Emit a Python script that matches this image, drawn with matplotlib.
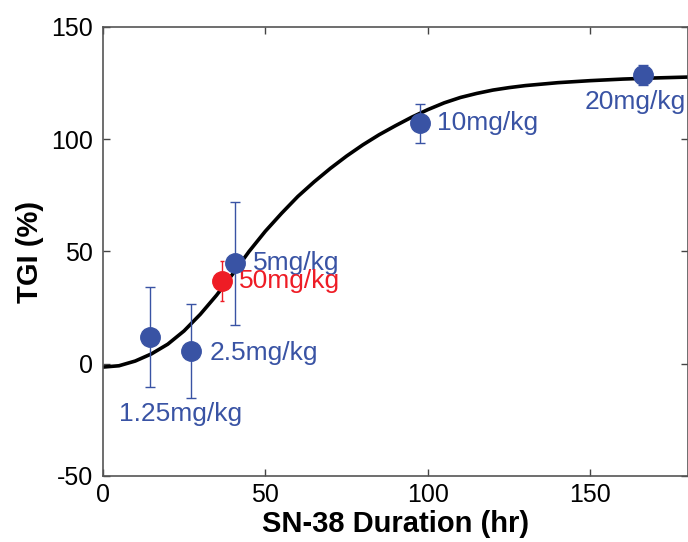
import matplotlib
matplotlib.use("Agg")
import matplotlib.pyplot as plt

# dose groups: SN-38 duration (hr), TGI (%), error
doses = ["1.25mg/kg", "2.5mg/kg", "5mg/kg", "10mg/kg", "20mg/kg"]
duration = [14.5, 27.1, 40.7, 97.6, 166.2]
tgi = [12.0, 5.7, 44.7, 107.1, 128.6]
tgi_err = [22.3, 21.0, 27.5, 8.8, 4.5]

# single red point
red_label = "50mg/kg"
red_duration = 36.6
red_tgi = 37.0
red_err = 8.9

# fitted curve
curve_x = [0, 5, 10, 15, 20, 25, 30, 35, 40, 45, 50, 55, 60, 65, 70, 75, 80,
           85, 90, 95, 100, 105, 110, 115, 120, 125, 130, 140, 150, 160, 170, 180]
curve_y = [-1.5, -0.9, 1.2, 4.4, 8.7, 14.6, 22.0, 30.5, 40.0, 50.0, 59.0,
           67.0, 74.5, 81.0, 87.0, 92.5, 97.5, 102.0, 106.0, 109.8, 113.2,
           116.2, 118.6, 120.4, 121.9, 123.0, 123.9, 125.2, 126.1, 126.8,
           127.3, 127.7]

# label anchor (left, vertical centre) in data coords
label_pos = [(4.9, -22.5), (32.9, 4.9), (46.1, 44.7), (102.7, 107.1), (148.3, 116.7)]
red_label_pos = (42.0, 37.0)

blue = "#3953a4"
red = "#ee1c25"

plt.rcParams["font.family"] = ["Liberation Sans", "DejaVu Sans"]
plt.rcParams["axes.unicode_minus"] = False

fig = plt.figure(figsize=(6.88, 5.42), dpi=100)
ax = fig.add_axes([0.1493, 0.1218, 0.8507, 0.8284])

ax.plot(curve_x, curve_y, color="black", linewidth=2.6, zorder=2)

ax.errorbar(duration, tgi, yerr=tgi_err, fmt="o", color=blue, ms=14,
            elinewidth=1.0, capsize=3.6, capthick=1.0, zorder=3)
ax.errorbar([red_duration], [red_tgi], yerr=[red_err], fmt="o", color=red,
            ms=14, elinewidth=1.0, capsize=1.5, capthick=1.0, zorder=3)

for name, (lx, ly) in zip(doses, label_pos):
    ax.text(lx, ly, name, color=blue, fontsize=19, ha="left", va="center",
            clip_on=False)
ax.text(red_label_pos[0], red_label_pos[1], red_label, color=red, fontsize=19,
        ha="left", va="center", clip_on=False)

ax.set_xlim(0, 180)
ax.set_ylim(-50, 150)
ax.set_xticks([0, 50, 100, 150])
ax.set_yticks([-50, 0, 50, 100, 150])
ax.tick_params(direction="in", length=5, width=1, labelsize=18,
               top=True, right=True, color="#444444")
ax.tick_params(axis="y", pad=7)
ax.tick_params(axis="x", pad=5)
for s in ax.spines.values():
    s.set_color("#555555")
    s.set_linewidth(1.2)

ax.set_xlabel("SN-38 Duration (hr)", fontsize=21, fontweight="bold", labelpad=2)
ax.set_ylabel("TGI (%)", fontsize=21, fontweight="bold", labelpad=5)

fig.savefig("out.png", dpi=100)
